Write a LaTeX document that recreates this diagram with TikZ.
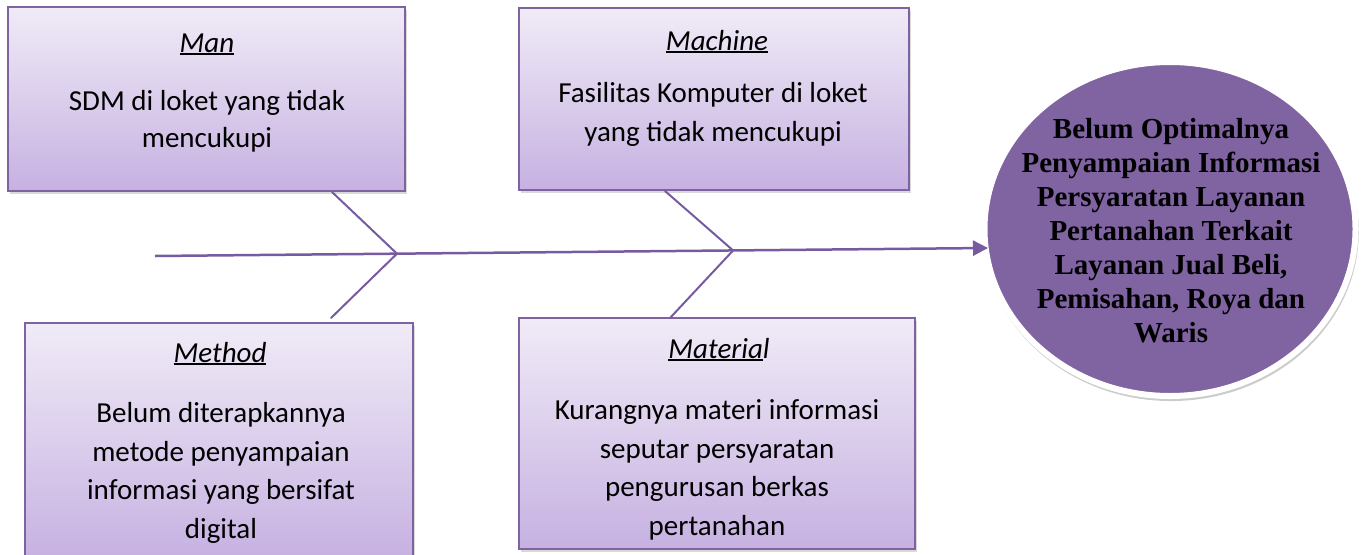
\documentclass[tikz,border=0pt]{standalone}
\usepackage{fontspec}
\setmainfont{Carlito}
\newfontfamily\tnr{Liberation Serif}
\usetikzlibrary{shadows,arrows.meta,shapes.geometric,calc}
\definecolor{pborder}{HTML}{7F63A1}
\definecolor{ptop}{HTML}{F0EBF7}
\definecolor{pbot}{HTML}{C6B1E1}
\definecolor{pfill}{HTML}{8064A2}
\definecolor{pline}{HTML}{765BA0}
\newcommand{\undl}[1]{\leavevmode\vtop{\hbox{#1}\kern1pt\hrule height 1.8pt}}
\tikzset{
  causebox/.style={rectangle, draw=pborder, line width=1.5pt, top color=ptop, bottom color=pbot,
    inner sep=0pt, drop shadow={opacity=0.3, shadow xshift=2pt, shadow yshift=-3pt}},
  headtxt/.style={anchor=base, inner sep=0pt, font=\fontsize{29}{37}\selectfont},
  bodytxt/.style={anchor=base, inner sep=0pt, align=center, font=\fontsize{29}{38.5}\selectfont},
  effect/.style={ellipse, fill=pfill, draw=white, line width=6pt,
    drop shadow={opacity=0.4, shadow xshift=1pt, shadow yshift=-3pt, shadow scale=1.012}},
  efftxt/.style={anchor=base, inner sep=0pt, align=center, font=\tnr\bfseries\fontsize{29}{34}\selectfont},
  spine/.style={draw=pline, line width=2.5pt, -{Triangle[length=15pt,width=15pt]}},
  bone/.style={draw=pline, line width=2pt, line cap=round}
}
\begin{document}
\begin{tikzpicture}[x=1pt,y=-1pt]
\useasboundingbox (0,0) rectangle (1372,554);
% cause boxes
\node[causebox, minimum width=397pt, minimum height=184pt] (man) at (206.5,99) {};
\node[causebox, minimum width=390pt, minimum height=182pt] (machine) at (714,99) {};
\node[causebox, minimum width=388pt, minimum height=237pt] (method) at (219,441.5) {};
\node[causebox, minimum width=396pt, minimum height=231pt] (material) at (717,433.5) {};
% texts (anchor base = baseline of the last line)
\node[headtxt] (manH) at (207,52) {\undl{\itshape Man}};
\node[bodytxt, font=\fontsize{29}{37}\selectfont] (manT) at (207,147) {SDM di loket yang tidak\\mencukupi};
\node[headtxt] (machH) at (717,50) {\undl{\itshape Machine}};
\node[bodytxt] (machT) at (713,141) {Fasilitas Komputer di loket\\yang tidak mencukupi};
\node[headtxt] (methH) at (220,362) {\undl{\itshape Method}};
\node[bodytxt] (methT) at (221,538) {Belum diterapkannya\\metode penyampaian\\informasi yang bersifat\\digital};
\node[headtxt] (matH) at (719,358) {\undl{\itshape Materia}\textit{l}};
\node[bodytxt] (matT) at (717,535) {Kurangnya materi informasi\\seputar persyaratan\\pengurusan berkas\\pertanahan};
% effect
\node[effect, minimum width=371pt, minimum height=334pt] (eff) at (1170,229) {};
\node[efftxt] (effT) at (1171,342) {Belum Optimalnya\\Penyampaian Informasi\\Persyaratan Layanan\\Pertanahan Terkait\\Layanan Jual Beli,\\Pemisahan, Roya dan\\Waris};
% spine and bones
\coordinate (sA) at (155,256);
\coordinate (sB) at (988,248);
\coordinate (j1) at ($(sA)!0.2905!(sB)$);
\coordinate (j2) at ($(sA)!0.694!(sB)$);
\coordinate (u1) at (332,192);
\coordinate (l1) at (331,318);
\coordinate (u2) at (665,191);
\coordinate (l2) at (670,318);
\draw[bone] (u1) -- (j1) -- (l1);
\draw[bone] (u2) -- (j2) -- (l2);
\draw[spine] (sA) -- (sB);
\end{tikzpicture}
\end{document}
